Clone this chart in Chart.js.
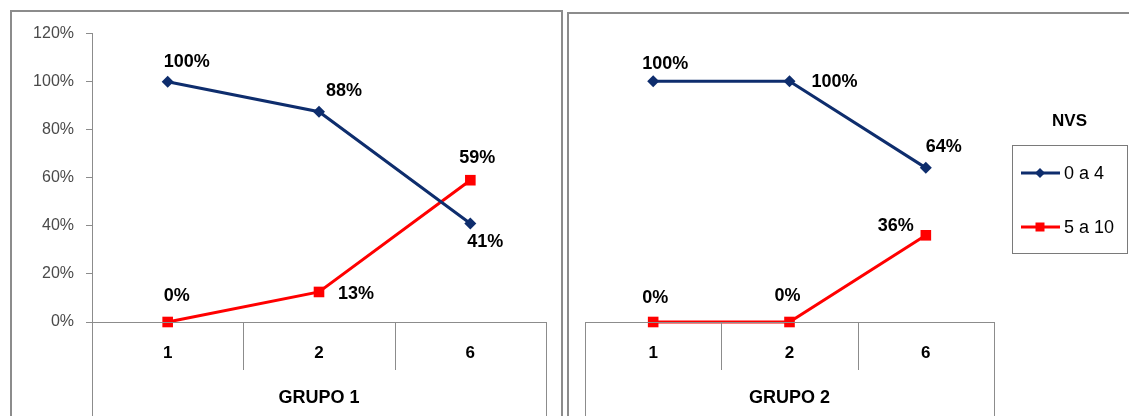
<!DOCTYPE html>
<html>
<head>
<meta charset="utf-8">
<script src="https://cdn.jsdelivr.net/npm/chart.js@4.4.1/dist/chart.umd.min.js"></script>
<style>
  html, body { margin: 0; padding: 0; background: #fff; overflow: hidden; }
  body { width: 1129px; height: 416px; position: relative; }
  .panel { position: absolute; border: 2px solid #8c8c8c; background: #fff; }
  #panel1 { left: 10px; top: 10px; width: 549px; height: 420px; }
  #panel2 { left: 567px; top: 12px; width: 600px; height: 420px; }
  .panel canvas { position: absolute; left: 0; top: 0; }
</style>
</head>
<body>
<div class="panel" id="panel1"><canvas id="chartGrupo1" width="549" height="404"></canvas></div>
<div class="panel" id="panel2"><canvas id="chartGrupo2" width="560" height="402"></canvas></div>

<script>
// ── data ─────────────────────────────────────────────
const categories = ['1', '2', '6'];
const seriesNames = ['0 a 4', '5 a 10'];
const grupo1Low = [1.00, 0.875, 0.41];
const grupo1High = [0.00, 0.125, 0.59];
const grupo2Low = [1.00, 1.00, 0.64];
const grupo2High = [0.00, 0.00, 0.36];
const yTicks = [0, 0.2, 0.4, 0.6, 0.8, 1.0, 1.2];

const NAVY = '#0E2D6D';
const RED = '#FF0000';
const AXIS = '#8c8c8c';

// label offsets from each point [dx, dy]
const offsets1 = [
    [[19, -20], [25, -21], [15, 19]],
    [[9, -26], [37, 2], [7, -22]],
];
const offsets2 = [
    [[12, -17], [45, 1], [18, -21]],
    [[2, -24], [-2, -26], [-30, -9]],
];

const pct = v => Math.round(v * 100) + '%';

// table-like category axis with group title underneath
const tableAxis = {
    id: 'tableAxis',
    afterDraw(chart, args, opts) {
        const { ctx, chartArea: a } = chart;
        const x = chart.scales.x;
        ctx.save();
        ctx.strokeStyle = AXIS;
        ctx.lineWidth = 1;
        ctx.beginPath();
        ctx.moveTo(a.left, a.bottom + 0.5);
        ctx.lineTo(a.right, a.bottom + 0.5);
        const n = chart.data.labels.length;
        for (let i = 1; i < n; i++) {
            const bx = Math.round((x.getPixelForValue(i - 1) + x.getPixelForValue(i)) / 2) + 0.5;
            ctx.moveTo(bx, a.bottom);
            ctx.lineTo(bx, a.bottom + 48);
        }
        ctx.moveTo(Math.round(a.left) + 0.5, a.bottom);
        ctx.lineTo(Math.round(a.left) + 0.5, chart.height);
        ctx.moveTo(Math.round(a.right) + 0.5, a.bottom);
        ctx.lineTo(Math.round(a.right) + 0.5, chart.height);
        ctx.stroke();

        ctx.fillStyle = '#000';
        ctx.font = 'bold 18px "Liberation Sans", Arial, sans-serif';
        ctx.textAlign = 'center';
        ctx.textBaseline = 'middle';
        ctx.fillText(opts.title, (a.left + a.right) / 2, a.bottom + 76);
        ctx.restore();
    }
};

// value labels next to each point
const pointLabels = {
    id: 'pointLabels',
    afterDatasetsDraw(chart, args, opts) {
        const { ctx } = chart;
        ctx.save();
        ctx.fillStyle = '#000';
        ctx.font = 'bold 18px "Liberation Sans", Arial, sans-serif';
        ctx.textAlign = 'center';
        ctx.textBaseline = 'middle';
        chart.data.datasets.forEach((ds, di) => {
            chart.getDatasetMeta(di).data.forEach((pt, i) => {
                const off = opts.offsets[di][i];
                ctx.fillText(pct(ds.data[i]), pt.x + off[0], pt.y + off[1]);
            });
        });
        ctx.restore();
    }
};

function drawMarker(ctx, style, x, y, r, color) {
    ctx.fillStyle = color;
    ctx.beginPath();
    if (style === 'rectRot') {
        ctx.moveTo(x, y - r);
        ctx.lineTo(x + r, y);
        ctx.lineTo(x, y + r);
        ctx.lineTo(x - r, y);
        ctx.closePath();
    } else {
        ctx.rect(x - r, y - r, r * 2, r * 2);
    }
    ctx.fill();
}

// boxed legend with title, drawn on the second panel
const boxLegend = {
    id: 'boxLegend',
    afterDraw(chart, args, opts) {
        if (!opts.show) return;
        const { ctx } = chart;
        const bx = 443, by = 131, bw = 115, bh = 108;
        ctx.save();
        ctx.fillStyle = '#000';
        ctx.font = 'bold 17px "Liberation Sans", Arial, sans-serif';
        ctx.textAlign = 'center';
        ctx.textBaseline = 'middle';
        ctx.fillText(opts.title, bx + bw / 2, by - 24);

        ctx.strokeStyle = '#7a7a7a';
        ctx.lineWidth = 1;
        ctx.strokeRect(bx + 0.5, by + 0.5, bw, bh);

        ctx.font = '18px "Liberation Sans", Arial, sans-serif';
        ctx.textAlign = 'left';
        chart.data.datasets.forEach((ds, i) => {
            const y = by + 28 + i * 54;
            ctx.strokeStyle = ds.borderColor;
            ctx.lineWidth = 3;
            ctx.beginPath();
            ctx.moveTo(bx + 9, y);
            ctx.lineTo(bx + 48, y);
            ctx.stroke();
            drawMarker(ctx, ds.pointStyle, bx + 28, y, ds.pointStyle === 'rectRot' ? 5 : 4.5, ds.borderColor);
            ctx.fillStyle = '#000';
            ctx.fillText(ds.label, bx + 52, y + 1);
        });
        ctx.restore();
    }
};

function makeDatasets(low, high) {
    return [
        {
            label: seriesNames[0], data: low,
            borderColor: NAVY, backgroundColor: NAVY, borderWidth: 3,
            pointStyle: 'rectRot', pointRadius: 6, pointHoverRadius: 6, pointBorderWidth: 0,
            tension: 0, clip: false,
        },
        {
            label: seriesNames[1], data: high,
            borderColor: RED, backgroundColor: RED, borderWidth: 3,
            pointStyle: 'rect', pointRadius: 7.5, pointHoverRadius: 7.5, pointBorderWidth: 0,
            tension: 0, clip: false,
        },
    ];
}

function makeChart(id, low, high, cfg) {
    return new Chart(document.getElementById(id).getContext('2d'), {
        type: 'line',
        data: { labels: categories, datasets: makeDatasets(low, high) },
        options: {
            responsive: false,
            animation: false,
            events: [],
            layout: { padding: cfg.padding },
            plugins: {
                legend: { display: false },
                tooltip: { enabled: false },
                tableAxis: { title: cfg.title },
                pointLabels: { offsets: cfg.offsets },
                boxLegend: { show: cfg.legend, title: 'NVS' },
            },
            scales: {
                x: {
                    type: 'category',
                    offset: true,
                    grid: { display: false },
                    border: { display: false },
                    ticks: {
                        color: '#000',
                        font: { family: '"Liberation Sans", Arial, sans-serif', size: 17, weight: 'bold' },
                        padding: 13,
                        maxRotation: 0,
                    },
                    afterFit: s => { s.height = 94; },
                },
                y: {
                    display: cfg.showY,
                    min: 0,
                    max: 1.2,
                    afterBuildTicks: s => { s.ticks = yTicks.map(v => ({ value: v })); },
                    grid: { drawOnChartArea: false, drawTicks: true, tickLength: 6, color: AXIS },
                    border: { display: true, color: AXIS, width: 1 },
                    ticks: {
                        color: '#4a4a4a',
                        font: { family: '"Liberation Sans", Arial, sans-serif', size: 16 },
                        padding: 12,
                        callback: v => pct(v),
                    },
                    afterFit: s => { s.width = cfg.showY ? 80 : 0; },
                },
            },
        },
        plugins: [tableAxis, pointLabels, boxLegend],
    });
}

makeChart('chartGrupo1', grupo1Low, grupo1High, {
    title: 'GRUPO 1', showY: true, legend: false, offsets: offsets1,
    padding: { left: 0, right: 15, top: 21, bottom: 0 },
});
makeChart('chartGrupo2', grupo2Low, grupo2High, {
    title: 'GRUPO 2', showY: false, legend: true, offsets: offsets2,
    padding: { left: 16, right: 135, top: 19, bottom: 0 },
});
</script>
</body>
</html>
